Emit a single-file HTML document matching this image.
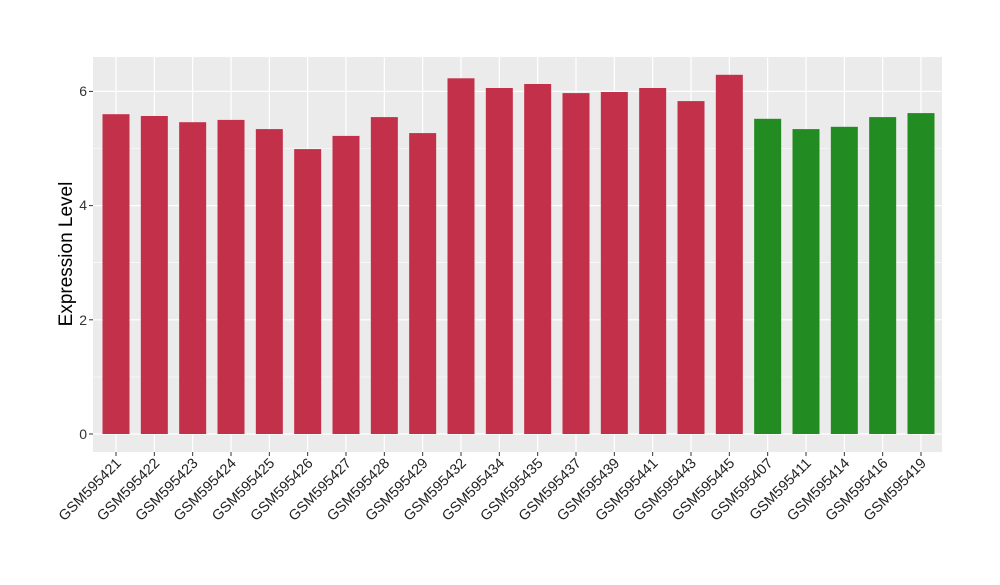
<!DOCTYPE html><html><head><style>body{margin:0;background:#fff}</style></head><body>
<svg width="1000" height="580" xmlns="http://www.w3.org/2000/svg" font-family="Liberation Sans, sans-serif">
<rect x="93" y="57" width="849" height="395" fill="#ebebeb"/>
<g stroke="#fff" stroke-width="0.6">
<line x1="93" x2="942" y1="377" y2="377"/><line x1="93" x2="942" y1="262.7" y2="262.7"/><line x1="93" x2="942" y1="148.5" y2="148.5"/>
</g>
<g stroke="#fff" stroke-width="1.2">
<line x1="93" x2="942" y1="434" y2="434"/><line x1="93" x2="942" y1="319.8" y2="319.8"/><line x1="93" x2="942" y1="205.6" y2="205.6"/><line x1="93" x2="942" y1="91.4" y2="91.4"/>
<line x1="116" x2="116" y1="57" y2="452"/><line x1="154.33" x2="154.33" y1="57" y2="452"/><line x1="192.67" x2="192.67" y1="57" y2="452"/><line x1="231" x2="231" y1="57" y2="452"/><line x1="269.33" x2="269.33" y1="57" y2="452"/><line x1="307.67" x2="307.67" y1="57" y2="452"/><line x1="346" x2="346" y1="57" y2="452"/><line x1="384.33" x2="384.33" y1="57" y2="452"/><line x1="422.67" x2="422.67" y1="57" y2="452"/><line x1="461" x2="461" y1="57" y2="452"/><line x1="499.33" x2="499.33" y1="57" y2="452"/><line x1="537.67" x2="537.67" y1="57" y2="452"/><line x1="576" x2="576" y1="57" y2="452"/><line x1="614.33" x2="614.33" y1="57" y2="452"/><line x1="652.67" x2="652.67" y1="57" y2="452"/><line x1="691" x2="691" y1="57" y2="452"/><line x1="729.33" x2="729.33" y1="57" y2="452"/><line x1="767.67" x2="767.67" y1="57" y2="452"/><line x1="806" x2="806" y1="57" y2="452"/><line x1="844.33" x2="844.33" y1="57" y2="452"/><line x1="882.67" x2="882.67" y1="57" y2="452"/><line x1="921" x2="921" y1="57" y2="452"/>
</g>
<g fill="#c3304a">
<rect x="102.5" y="114.2" width="27" height="319.8"/>
<rect x="140.83" y="116" width="27" height="318"/>
<rect x="179.17" y="122.2" width="27" height="311.8"/>
<rect x="217.5" y="119.9" width="27" height="314.1"/>
<rect x="255.83" y="129.1" width="27" height="304.9"/>
<rect x="294.17" y="149.1" width="27" height="284.9"/>
<rect x="332.5" y="135.9" width="27" height="298.1"/>
<rect x="370.83" y="117.1" width="27" height="316.9"/>
<rect x="409.17" y="133.1" width="27" height="300.9"/>
<rect x="447.5" y="78.3" width="27" height="355.7"/>
<rect x="485.83" y="88" width="27" height="346"/>
<rect x="524.17" y="84" width="27" height="350"/>
<rect x="562.5" y="93.1" width="27" height="340.9"/>
<rect x="600.83" y="92" width="27" height="342"/>
<rect x="639.17" y="88" width="27" height="346"/>
<rect x="677.5" y="101.1" width="27" height="332.9"/>
<rect x="715.83" y="74.8" width="27" height="359.2"/>
</g>
<g fill="#228b22">
<rect x="754.17" y="118.8" width="27" height="315.2"/>
<rect x="792.5" y="129.1" width="27" height="304.9"/>
<rect x="830.83" y="126.8" width="27" height="307.2"/>
<rect x="869.17" y="117.1" width="27" height="316.9"/>
<rect x="907.5" y="113.1" width="27" height="320.9"/>
</g>
<g stroke="#333">
<line x1="89" x2="93" y1="434" y2="434"/><line x1="89" x2="93" y1="319.8" y2="319.8"/><line x1="89" x2="93" y1="205.6" y2="205.6"/><line x1="89" x2="93" y1="91.4" y2="91.4"/>
<line x1="116" x2="116" y1="452" y2="456"/><line x1="154.33" x2="154.33" y1="452" y2="456"/><line x1="192.67" x2="192.67" y1="452" y2="456"/><line x1="231" x2="231" y1="452" y2="456"/><line x1="269.33" x2="269.33" y1="452" y2="456"/><line x1="307.67" x2="307.67" y1="452" y2="456"/><line x1="346" x2="346" y1="452" y2="456"/><line x1="384.33" x2="384.33" y1="452" y2="456"/><line x1="422.67" x2="422.67" y1="452" y2="456"/><line x1="461" x2="461" y1="452" y2="456"/><line x1="499.33" x2="499.33" y1="452" y2="456"/><line x1="537.67" x2="537.67" y1="452" y2="456"/><line x1="576" x2="576" y1="452" y2="456"/><line x1="614.33" x2="614.33" y1="452" y2="456"/><line x1="652.67" x2="652.67" y1="452" y2="456"/><line x1="691" x2="691" y1="452" y2="456"/><line x1="729.33" x2="729.33" y1="452" y2="456"/><line x1="767.67" x2="767.67" y1="452" y2="456"/><line x1="806" x2="806" y1="452" y2="456"/><line x1="844.33" x2="844.33" y1="452" y2="456"/><line x1="882.67" x2="882.67" y1="452" y2="456"/><line x1="921" x2="921" y1="452" y2="456"/>
</g>
<g font-size="14" fill="#333" text-anchor="end">
<text x="87" y="439">0</text><text x="87" y="325">2</text><text x="87" y="210">4</text><text x="87" y="96">6</text>
</g>
<g font-size="14.5" fill="#222" text-anchor="end">
<text transform="translate(122,464) rotate(-45)">GSM595421</text>
<text transform="translate(160.33,464) rotate(-45)">GSM595422</text>
<text transform="translate(198.67,464) rotate(-45)">GSM595423</text>
<text transform="translate(237,464) rotate(-45)">GSM595424</text>
<text transform="translate(275.33,464) rotate(-45)">GSM595425</text>
<text transform="translate(313.67,464) rotate(-45)">GSM595426</text>
<text transform="translate(352,464) rotate(-45)">GSM595427</text>
<text transform="translate(390.33,464) rotate(-45)">GSM595428</text>
<text transform="translate(428.67,464) rotate(-45)">GSM595429</text>
<text transform="translate(467,464) rotate(-45)">GSM595432</text>
<text transform="translate(505.33,464) rotate(-45)">GSM595434</text>
<text transform="translate(543.67,464) rotate(-45)">GSM595435</text>
<text transform="translate(582,464) rotate(-45)">GSM595437</text>
<text transform="translate(620.33,464) rotate(-45)">GSM595439</text>
<text transform="translate(658.67,464) rotate(-45)">GSM595441</text>
<text transform="translate(697,464) rotate(-45)">GSM595443</text>
<text transform="translate(735.33,464) rotate(-45)">GSM595445</text>
<text transform="translate(773.67,464) rotate(-45)">GSM595407</text>
<text transform="translate(812,464) rotate(-45)">GSM595411</text>
<text transform="translate(850.33,464) rotate(-45)">GSM595414</text>
<text transform="translate(888.67,464) rotate(-45)">GSM595416</text>
<text transform="translate(927,464) rotate(-45)">GSM595419</text>
</g>
<text transform="translate(72,254) rotate(-90)" text-anchor="middle" font-size="19">Expression Level</text>
</svg></body></html>
